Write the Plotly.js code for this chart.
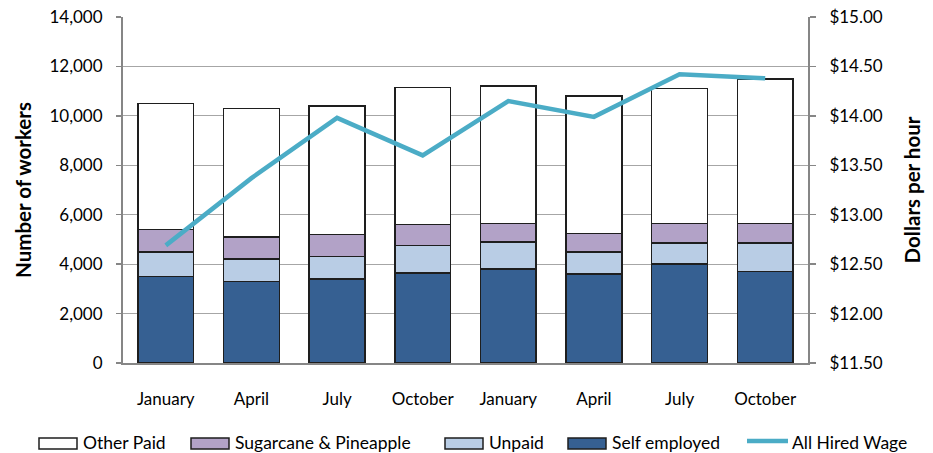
<!DOCTYPE html>
<html>
<head>
<meta charset="utf-8">
<script src="https://cdn.plot.ly/plotly-3.0.1.min.js"></script>
<style>
  html, body { margin: 0; padding: 0; background: #fff; }
  #chart { width: 933px; height: 453px; }
</style>
</head>
<body>
<div id="chart"></div>
<script>
// ---- Data ----
const categories = ["January", "April", "July", "October", "January", "April", "July", "October"];
const selfEmployed = [3500, 3300, 3400, 3650, 3800, 3600, 4000, 3700];
const unpaid       = [1000,  900,  900, 1100, 1100,  900,  850, 1150];
const sugarcane    = [ 900,  900,  900,  850,  750,  750,  800,  800];
const otherPaid    = [5100, 5200, 5200, 5550, 5550, 5550, 5450, 5850];
const hiredWage    = [12.69, 13.37, 13.98, 13.60, 14.15, 13.99, 14.42, 14.38];
const leftTicks  = [0, 2000, 4000, 6000, 8000, 10000, 12000, 14000];
const rightTicks = [11.5, 12, 12.5, 13, 13.5, 14, 14.5, 15];

const xIdx = categories.map((_, i) => i);
const FONT = "Lato, 'Open Sans', sans-serif";
const outline = { color: '#1e1e1e', width: 1.5 };

const traces = [
  { type: 'bar', name: 'Self employed', x: xIdx, y: selfEmployed,
    marker: { color: '#366092', line: outline } },
  { type: 'bar', name: 'Unpaid', x: xIdx, y: unpaid,
    marker: { color: '#B9CDE5', line: outline } },
  { type: 'bar', name: 'Sugarcane & Pineapple', x: xIdx, y: sugarcane,
    marker: { color: '#B2A2C7', line: outline } },
  { type: 'bar', name: 'Other Paid', x: xIdx, y: otherPaid,
    marker: { color: '#FFFFFF', line: outline } },
  { type: 'scatter', mode: 'lines', name: 'All Hired Wage', x: xIdx, y: hiredWage,
    yaxis: 'y2', line: { color: '#4BACC6', width: 4.5 } }
];

// ---- Custom legend (drawn below the plot, in paper coordinates) ----
// order shown in the reference: Other Paid, Sugarcane & Pineapple, Unpaid, Self employed, All Hired Wage
const legendOrder = [3, 2, 1, 0, 4];
const PL = 123, PW = 685, PB = 363, PH = 346;           // plot area in pixels
const px2x = p => (p - PL) / PW;
const py2y = p => (PB - p) / PH;
const swatchLeft = [39, 191, 445, 568, 747];
const swatchW = 38, swatchTop = 438, swatchBot = 449, legendMid = 443;
const shapes = [];
const annotations = [];
legendOrder.forEach((ti, k) => {
  const tr = traces[ti];
  const x0 = px2x(swatchLeft[k]), x1 = px2x(swatchLeft[k] + swatchW);
  if (tr.type === 'bar') {
    shapes.push({ type: 'rect', xref: 'paper', yref: 'paper',
      x0: x0, x1: x1, y0: py2y(swatchBot), y1: py2y(swatchTop),
      fillcolor: tr.marker.color, line: { color: '#1e1e1e', width: 1.5 } });
  } else {
    shapes.push({ type: 'line', xref: 'paper', yref: 'paper',
      x0: x0, x1: px2x(swatchLeft[k] + 41), y0: py2y(legendMid - 2), y1: py2y(legendMid - 2),
      line: { color: tr.line.color, width: 4.5 } });
  }
  annotations.push({ xref: 'paper', yref: 'paper',
    x: px2x(swatchLeft[k] + (tr.type === 'bar' ? swatchW + 4 : 43)), y: py2y(legendMid),
    xanchor: 'left', yanchor: 'middle', showarrow: false,
    text: tr.name.replace('&', '&amp;'),
    font: { family: FONT, size: 17.5, color: '#000' } });
});

const layout = {
  width: 933, height: 453,
  margin: { l: 123, r: 125, t: 17, b: 90 },
  paper_bgcolor: '#fff', plot_bgcolor: '#fff',
  font: { family: FONT, size: 17, color: '#000' },
  barmode: 'stack',
  bargap: 0.35,
  showlegend: false,
  shapes: shapes,
  annotations: annotations,
  xaxis: {
    range: [-0.5, 7.5],
    tickmode: 'array', tickvals: xIdx, ticktext: categories,
    showgrid: false, zeroline: false,
    showline: true, linecolor: '#868686', linewidth: 2,
    ticks: '', ticklabelstandoff: 20,
    tickfont: { family: FONT, size: 17, color: '#000' },
    fixedrange: true
  },
  yaxis: {
    range: [0, 14000],
    tickmode: 'array', tickvals: leftTicks,
    tickformat: ',d',
    showgrid: true, gridcolor: '#A6A6A6', gridwidth: 1.2,
    zeroline: false,
    showline: true, linecolor: '#868686', linewidth: 2,
    ticks: 'outside', ticklen: 5, tickcolor: '#868686', tickwidth: 1.5,
    ticklabelstandoff: 10,
    tickfont: { family: FONT, size: 17, color: '#000' },
    title: { text: 'Number of workers', font: { family: FONT, size: 20.5, color: '#000', weight: 'bold' }, standoff: 12 },
    fixedrange: true
  },
  yaxis2: {
    overlaying: 'y', side: 'right',
    range: [11.5, 15],
    tickmode: 'array', tickvals: rightTicks,
    tickformat: '$.2f',
    showgrid: false, zeroline: false,
    showline: true, linecolor: '#868686', linewidth: 2,
    ticks: 'outside', ticklen: 6, tickcolor: '#868686', tickwidth: 1.5,
    ticklabelstandoff: 10,
    tickfont: { family: FONT, size: 17, color: '#000' },
    title: { text: 'Dollars per hour', font: { family: FONT, size: 20.5, color: '#000', weight: 'bold' }, standoff: 24 },
    fixedrange: true
  }
};

Plotly.newPlot('chart', traces, layout, { displayModeBar: false, staticPlot: true });
</script>
</body>
</html>
